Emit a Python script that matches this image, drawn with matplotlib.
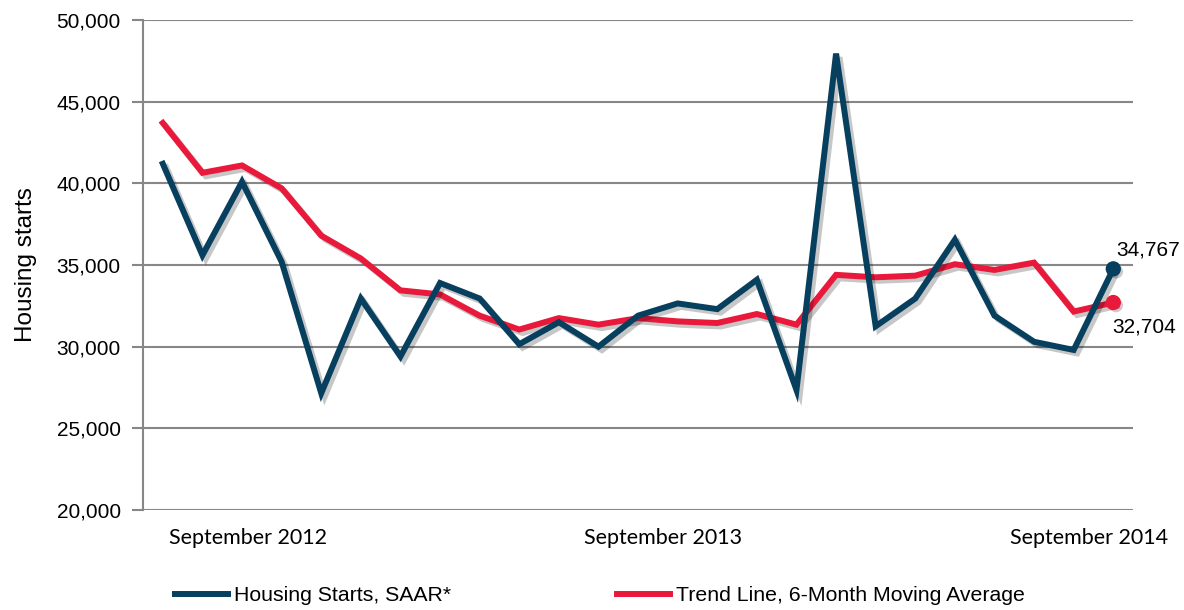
import matplotlib
matplotlib.use("Agg")
import matplotlib.pyplot as plt
import matplotlib.patheffects as pe
from matplotlib.lines import Line2D
from matplotlib.ticker import FuncFormatter

# Monthly data, September 2012 .. September 2014 (25 months)
starts = [41200, 35600, 40100, 35200, 27150, 32950, 29400, 33900, 32950, 30150,
          31500, 30000, 31900, 32650, 32300, 34100, 27350, 47950, 31250, 32950,
          36550, 31900, 30300, 29800, 34767]
trend = [43700, 40650, 41100, 39700, 36800, 35400, 33450, 33200, 31900, 31050,
         31750, 31350, 31750, 31550, 31450, 32000, 31350, 34400, 34250, 34350,
         35050, 34700, 35150, 32150, 32704]
x_labels = ["September 2012", "September 2013", "September 2014"]
x_label_pos = [2.15, 12.62, 23.4]

DARK = "#073F5E"
RED = "#E8193A"
GRID = "#878787"

plt.rcParams["font.family"] = ["Liberation Sans", "DejaVu Sans"]

fig = plt.figure(figsize=(11.84, 6.10), dpi=100)
ax = fig.add_axes([0.1208, 0.164, 0.8362, 0.803])

x = list(range(len(starts)))
shadow = [pe.SimpleLineShadow(offset=(2.5, -2.5), shadow_color="black", alpha=0.22),
          pe.Normal()]
dot_shadow = [pe.SimplePatchShadow(offset=(2, -2), alpha=0.22), pe.Normal()]

ax.plot(x, trend, color=RED, lw=4.3, solid_joinstyle="miter", path_effects=shadow, zorder=3)
ax.plot(x, starts, color=DARK, lw=4.3, solid_joinstyle="miter", path_effects=shadow, zorder=4)
ax.plot(x[-1], trend[-1], "o", color=RED, ms=10, zorder=5, path_effects=dot_shadow)
ax.plot(x[-1], starts[-1], "o", color=DARK, ms=10, zorder=6, path_effects=dot_shadow)

# end-point value labels
ax.annotate(f"{starts[-1]:,}", (x[-1], starts[-1]), xytext=(2, 7),
            textcoords="offset points", ha="left", va="bottom", fontsize=15)
ax.annotate(f"{trend[-1]:,}", (x[-1], trend[-1]), xytext=(-1, -11),
            textcoords="offset points", ha="left", va="top", fontsize=15)

ax.set_xlim(-0.5, len(starts) - 0.5)
ax.set_ylim(20000, 50000)
ax.set_yticks(range(20000, 50001, 5000))
ax.yaxis.set_major_formatter(FuncFormatter(lambda v, p: f"{int(v):,}"))
ax.grid(axis="y", color=GRID, lw=1.5)
ax.set_axisbelow(True)

ax.set_xticks(x_label_pos)
ax.set_xticklabels(x_labels, fontsize=15.5, family=["Lato", "DejaVu Sans"])
ax.tick_params(axis="x", length=0, pad=13)
ax.tick_params(axis="y", length=8, width=1.5, color=GRID, labelsize=15, pad=8)

for s in ("top", "right", "bottom"):
    ax.spines[s].set_visible(False)
ax.spines["left"].set_color(GRID)
ax.spines["left"].set_linewidth(1.5)

ax.set_ylabel("Housing starts", fontsize=17.5, labelpad=14)

handles = [Line2D([], [], color=DARK, lw=4.3),
           Line2D([], [], color=RED, lw=4.3)]
fig.legend(handles, ["Housing Starts, SAAR*", "Trend Line, 6-Month Moving Average"],
           loc="center", bbox_to_anchor=(0.507, 0.023), ncol=2, frameon=False,
           prop={"family": ["Liberation Sans Narrow", "Liberation Sans"], "size": 15.3},
           handlelength=2.5, handletextpad=0.28, columnspacing=7.8)

fig.savefig("out.png", dpi=100, facecolor="white")
